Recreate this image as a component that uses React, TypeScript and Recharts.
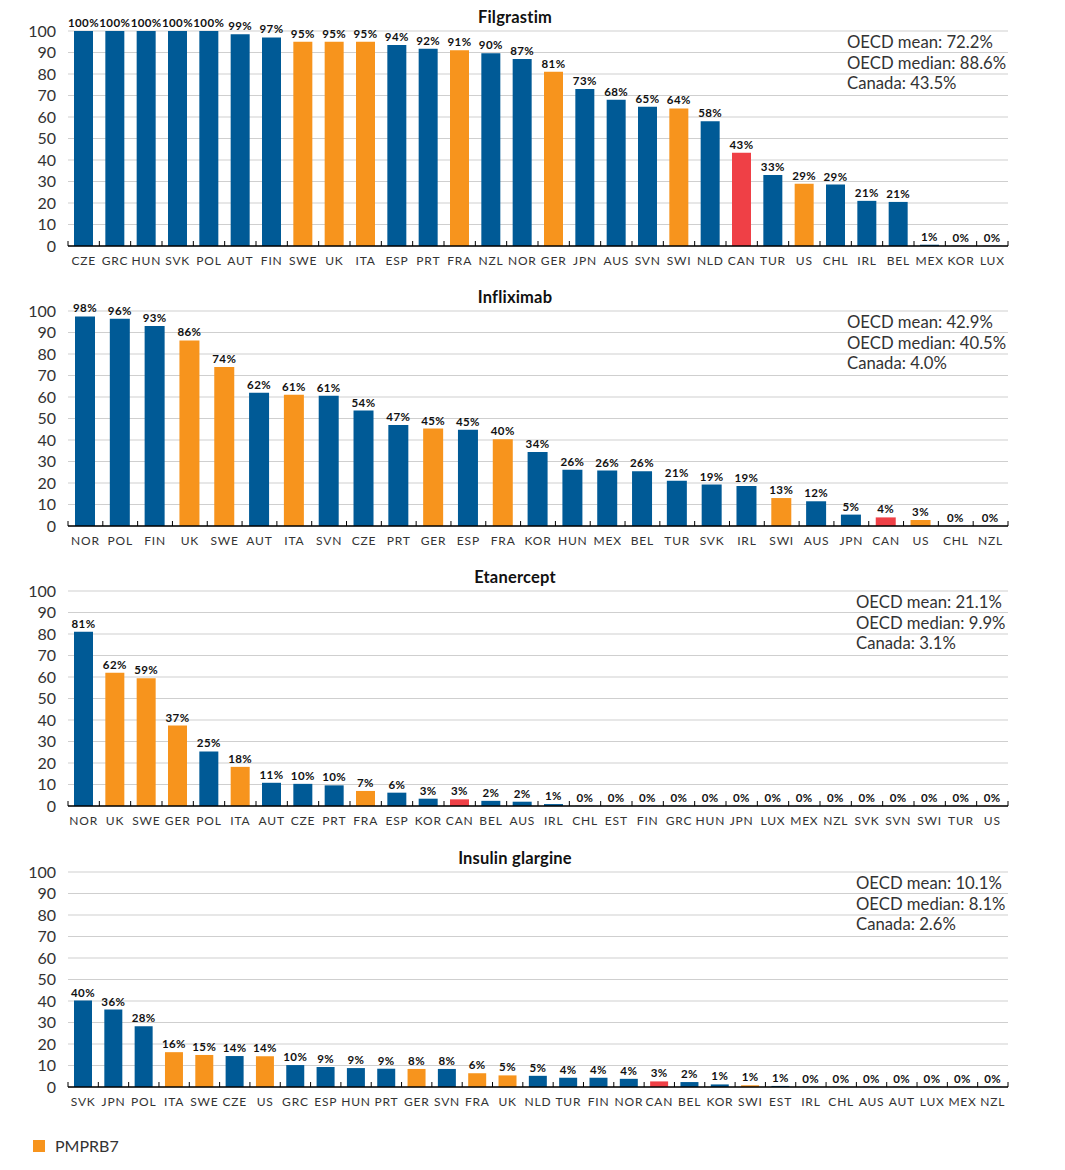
import { Bar, BarChart, CartesianGrid, Cell, LabelList, XAxis, YAxis } from 'recharts';

const BLUE = '#005a96';
const ORANGE = '#f7941d';
const RED = '#ef4046';
const FONT = 'Lato, "Noto Sans", sans-serif';

// countries in the PMPRB7 comparator group (orange); Canada is red
const pmprb7 = ['FRA', 'GER', 'ITA', 'SWE', 'SWI', 'UK', 'US'];

const filgrastimCountries = ['CZE', 'GRC', 'HUN', 'SVK', 'POL', 'AUT', 'FIN', 'SWE', 'UK', 'ITA', 'ESP', 'PRT', 'FRA', 'NZL', 'NOR', 'GER', 'JPN', 'AUS', 'SVN', 'SWI', 'NLD', 'CAN', 'TUR', 'US', 'CHL', 'IRL', 'BEL', 'MEX', 'KOR', 'LUX'];
const filgrastimValues = [100, 100, 100, 100, 100, 98.5, 97, 95, 95, 95, 93.5, 91.7, 91, 89.7, 87, 81, 73, 68, 64.8, 64, 58, 43.4, 33, 29, 28.6, 21, 20.5, 0.6, 0, 0];
const filgrastimStats = ['OECD mean: 72.2%', 'OECD median: 88.6%', 'Canada: 43.5%'];

const infliximabCountries = ['NOR', 'POL', 'FIN', 'UK', 'SWE', 'AUT', 'ITA', 'SVN', 'CZE', 'PRT', 'GER', 'ESP', 'FRA', 'KOR', 'HUN', 'MEX', 'BEL', 'TUR', 'SVK', 'IRL', 'SWI', 'AUS', 'JPN', 'CAN', 'US', 'CHL', 'NZL'];
const infliximabValues = [97.5, 96.4, 93, 86.3, 74, 62, 61, 60.6, 53.7, 47, 45.3, 44.8, 40.4, 34.4, 26.2, 25.8, 25.5, 21, 19.3, 18.6, 13, 11.5, 5.3, 4, 2.8, 0, 0];
const infliximabStats = ['OECD mean: 42.9%', 'OECD median: 40.5%', 'Canada: 4.0%'];

const etanerceptCountries = ['NOR', 'UK', 'SWE', 'GER', 'POL', 'ITA', 'AUT', 'CZE', 'PRT', 'FRA', 'ESP', 'KOR', 'CAN', 'BEL', 'AUS', 'IRL', 'CHL', 'EST', 'FIN', 'GRC', 'HUN', 'JPN', 'LUX', 'MEX', 'NZL', 'SVK', 'SVN', 'SWI', 'TUR', 'US'];
const etanerceptValues = [81, 62, 59.4, 37.4, 25.4, 18.2, 10.8, 10.3, 9.6, 7, 6.2, 3.4, 3.1, 2.4, 2, 0.9, 0, 0, 0, 0, 0, 0, 0, 0, 0, 0, 0, 0, 0, 0];
const etanerceptStats = ['OECD mean: 21.1%', 'OECD median: 9.9%', 'Canada: 3.1%'];

const glargineCountries = ['SVK', 'JPN', 'POL', 'ITA', 'SWE', 'CZE', 'US', 'GRC', 'ESP', 'HUN', 'PRT', 'GER', 'SVN', 'FRA', 'UK', 'NLD', 'TUR', 'FIN', 'NOR', 'CAN', 'BEL', 'KOR', 'SWI', 'EST', 'IRL', 'CHL', 'AUS', 'AUT', 'LUX', 'MEX', 'NZL'];
const glargineValues = [40.2, 36, 28.3, 16.2, 14.9, 14.4, 14.3, 10.2, 9.3, 8.8, 8.5, 8.4, 8.4, 6.4, 5.4, 5.2, 4.3, 4.3, 3.8, 2.6, 2.3, 1.2, 0.8, 0.5, 0, 0, 0, 0, 0, 0, 0];
const glargineStats = ['OECD mean: 10.1%', 'OECD median: 8.1%', 'Canada: 2.6%'];

const yTicks = [0, 10, 20, 30, 40, 50, 60, 70, 80, 90, 100];

const PLOT_LEFT = 68;
const PLOT_RIGHT = 1008;
const CHART_W = 1065;
const CHART_H = 280;
const MARGIN_TOP = 25;

function barColor(country: string) {
  if (country === 'CAN') return RED;
  return pmprb7.includes(country) ? ORANGE : BLUE;
}

function CountryTick(props: any) {
  const { x, y, payload, bandWidth, last } = props;
  const half = bandWidth / 2;
  return (
    <g>
      <line x1={x - half} x2={x - half} y1={y} y2={y - 5} stroke="#000" strokeWidth={1} />
      {payload.value === last && (
        <line x1={x + half} x2={x + half} y1={y} y2={y - 5} stroke="#000" strokeWidth={1} />
      )}
      <text x={x} y={y + 19} textAnchor="middle" fill="#333" fontSize={12} fontFamily={FONT} letterSpacing={0.8}>
        {payload.value}
      </text>
    </g>
  );
}

interface PanelProps {
  title: string;
  countries: string[];
  values: number[];
  stats: string[];
  top: number;
  barSize: number;
  statsLeft: number;
}

function Panel({ title, countries, values, stats, top, barSize, statsLeft }: PanelProps) {
  const data = countries.map((c, i) => ({ country: c, value: values[i] }));
  const bandWidth = (PLOT_RIGHT - PLOT_LEFT) / countries.length;

  return (
    <div style={{ position: 'absolute', left: 0, top, width: CHART_W, height: CHART_H }}>
      <div
        style={{
          position: 'absolute', left: 365, width: 300, top: 1, textAlign: 'center',
          fontFamily: FONT, fontWeight: 700, fontSize: 16.5, color: '#111', lineHeight: '20px',
          letterSpacing: 0.2,
        }}
      >
        {title}
      </div>
      <div
        style={{
          position: 'absolute', left: statsLeft, top: 26, fontFamily: FONT, fontSize: 16.7,
          color: '#333', lineHeight: '20.7px', zIndex: 2, whiteSpace: 'nowrap',
        }}
      >
        {stats.map((s) => (
          <div key={s}>{s}</div>
        ))}
      </div>
      <BarChart
        width={CHART_W}
        height={CHART_H}
        data={data}
        margin={{ top: MARGIN_TOP, right: CHART_W - PLOT_RIGHT, bottom: 10, left: 0 }}
        barSize={barSize}
      >
        <CartesianGrid vertical={false} stroke="#cfcfcf" strokeWidth={1} />
        <XAxis
          dataKey="country"
          height={30}
          interval={0}
          tickLine={false}
          tickSize={0}
          tickMargin={0}
          axisLine={{ stroke: '#000', strokeWidth: 1.5 }}
          tick={<CountryTick bandWidth={bandWidth} last={countries[countries.length - 1]} />}
        />
        <YAxis
          width={PLOT_LEFT}
          domain={[0, 100]}
          ticks={yTicks}
          interval={0}
          axisLine={false}
          tickLine={false}
          tickSize={0}
          tickMargin={12}
          tick={{ fill: '#333', fontSize: 16, fontFamily: FONT }}
        />
        <Bar
          dataKey="value"
          isAnimationActive={false}
          minPointSize={(v: any) => (Number(v) === 0 ? 0.2 : 0)}
        >
          {data.map((d) => (
            <Cell key={d.country} fill={barColor(d.country)} />
          ))}
          <LabelList
            dataKey="value"
            position="top"
            offset={4}
            formatter={(v: any) => `${Math.round(Number(v))}%`}
            fill="#111"
            fontSize={11.5}
            fontWeight={700}
            fontFamily={FONT}
            letterSpacing={0.4}
          />
        </Bar>
      </BarChart>
    </div>
  );
}

export default function App() {
  return (
    <div style={{ position: 'absolute', left: 0, top: 0, width: 1065, height: 1170, background: '#fff' }}>
      <Panel title="Filgrastim" countries={filgrastimCountries} values={filgrastimValues} stats={filgrastimStats} top={6} barSize={19} statsLeft={847} />
      <Panel title="Infliximab" countries={infliximabCountries} values={infliximabValues} stats={infliximabStats} top={286} barSize={20} statsLeft={847} />
      <Panel title="Etanercept" countries={etanerceptCountries} values={etanerceptValues} stats={etanerceptStats} top={566} barSize={19} statsLeft={856} />
      <Panel title="Insulin glargine" countries={glargineCountries} values={glargineValues} stats={glargineStats} top={847} barSize={18} statsLeft={856} />
      <div style={{ position: 'absolute', left: 33, top: 1140, width: 12, height: 12, background: ORANGE }} />
      <div style={{ position: 'absolute', left: 55, top: 1136, fontFamily: FONT, fontSize: 16, color: '#333', lineHeight: '20px' }}>
        PMPRB7
      </div>
    </div>
  );
}
